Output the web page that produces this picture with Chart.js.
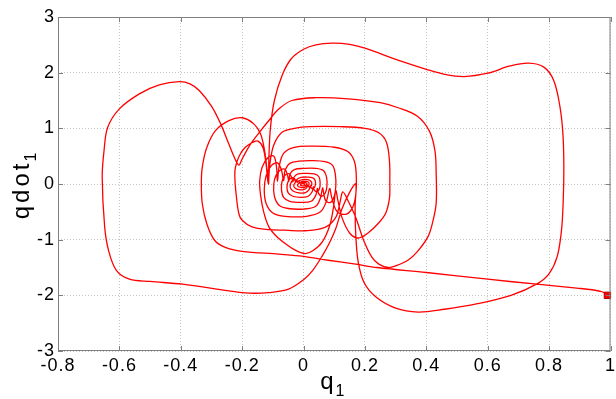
<!DOCTYPE html>
<html>
<head>
<meta charset="utf-8">
<script src="https://cdn.jsdelivr.net/npm/chart.js@4/dist/chart.umd.min.js"></script>
<style>
  html, body { margin: 0; padding: 0; background: #fff; }
  #wrap { width: 616px; height: 399px; }
</style>
</head>
<body>
<div id="wrap"><canvas id="phase" width="616" height="399"></canvas></div>
<script>
// phase portrait q1 vs qdot1 as [q1, qdot1] pairs
const approach = [[0.99,-2.0],[0.975,-1.94],[0.94,-1.9],[0.89,-1.87],[0.76,-1.8],[0.6,-1.71],[0.4,-1.59],[0.24,-1.5],[0.17,-1.44],[0.08,-1.37],[0.0,-1.3],[-0.08,-1.26],[-0.2,-1.21],[-0.255,-1.14],[-0.29,-1.01],[-0.315,-0.72],[-0.33,-0.35],[-0.333,0.0],[-0.33,0.3],[-0.315,0.66],[-0.287,0.96],[-0.243,1.14],[-0.2,1.19],[-0.162,1.08],[-0.14,0.9],[-0.127,0.6],[-0.119,0.25],[-0.114,0.0]];
const outerRight = [[-0.113,0.45],[-0.108,1.0],[-0.095,1.5],[-0.07,1.95],[-0.04,2.25],[0.0,2.42],[0.04,2.5],[0.092,2.53],[0.15,2.51],[0.2,2.44],[0.31,2.22],[0.4,2.06],[0.46,1.97],[0.523,1.93],[0.6,1.99],[0.673,2.12],[0.733,2.17],[0.783,2.1],[0.815,1.86],[0.835,1.4],[0.845,0.9],[0.848,0.3],[0.846,-0.3],[0.84,-0.85],[0.826,-1.31],[0.8,-1.61],[0.762,-1.79],[0.676,-2.0],[0.567,-2.15],[0.459,-2.25],[0.373,-2.3],[0.3,-2.23],[0.236,-2.03],[0.197,-1.77],[0.178,-1.4],[0.17,-0.9],[0.168,-0.4],[0.17,0.0]];
const outerLeft = [[0.15,-0.15],[0.125,-0.45],[0.105,-0.8],[0.085,-1.05],[0.059,-1.31],[0.03,-1.55],[0.0,-1.72],[-0.049,-1.89],[-0.113,-1.95],[-0.178,-1.96],[-0.243,-1.92],[-0.394,-1.8],[-0.5,-1.75],[-0.567,-1.71],[-0.61,-1.55],[-0.635,-1.2],[-0.648,-0.77],[-0.656,0.13],[-0.65,0.6],[-0.638,1.02],[-0.6,1.35],[-0.535,1.62],[-0.47,1.78],[-0.405,1.84],[-0.37,1.8],[-0.34,1.68],[-0.3,1.4],[-0.27,1.08],[-0.245,0.74],[-0.225,0.47],[-0.211,0.34]];
const swing3Right = [[-0.2,0.45],[-0.175,0.7],[-0.145,0.92],[-0.113,1.14],[-0.08,1.35],[-0.038,1.5],[0.038,1.55],[0.146,1.53],[0.25,1.46],[0.308,1.37],[0.37,1.22],[0.41,0.95],[0.428,0.6],[0.432,0.2],[0.432,-0.35],[0.42,-0.7],[0.405,-0.95],[0.37,-1.22],[0.34,-1.37],[0.3,-1.47],[0.276,-1.5],[0.245,-1.44],[0.222,-1.31],[0.195,-1.0],[0.17,-0.6],[0.145,-0.3],[0.128,-0.14]];
const swing3Left = [[0.118,-0.35],[0.105,-0.6],[0.07,-0.78],[0.005,-0.84],[-0.06,-0.83],[-0.113,-0.82],[-0.168,-0.77],[-0.2,-0.65],[-0.211,-0.53],[-0.221,-0.11],[-0.224,0.15],[-0.222,0.3],[-0.21,0.5],[-0.19,0.66],[-0.165,0.75],[-0.148,0.77],[-0.132,0.65],[-0.122,0.35],[-0.115,0.0]];
const swing4Right = [[-0.11,0.35],[-0.097,0.7],[-0.07,0.93],[-0.03,1.0],[0.02,1.03],[0.12,1.03],[0.2,1.0],[0.245,0.92],[0.27,0.75],[0.28,0.4],[0.281,0.0],[0.28,-0.25],[0.268,-0.52],[0.243,-0.71],[0.21,-0.88],[0.178,-0.97],[0.15,-0.88],[0.125,-0.6],[0.112,-0.3],[0.105,-0.12]];
const swing4Left = [[0.098,-0.4],[0.085,-0.75],[0.06,-1.05],[0.03,-1.2],[0.005,-1.25],[-0.03,-1.18],[-0.06,-1.07],[-0.09,-0.93],[-0.113,-0.77],[-0.13,-0.5],[-0.14,-0.2],[-0.143,0.05],[-0.135,0.3],[-0.115,0.48],[-0.097,0.5],[-0.088,0.3],[-0.085,0.05]];
const swing5Right = [[-0.08,0.3],[-0.065,0.55],[-0.03,0.66],[0.03,0.68],[0.1,0.66],[0.145,0.58],[0.166,0.4],[0.172,0.1],[0.17,-0.2],[0.16,-0.42],[0.14,-0.54],[0.11,-0.5],[0.092,-0.25],[0.085,-0.08]];
const swing5Left = [[0.075,-0.3],[0.055,-0.5],[0.01,-0.58],[-0.06,-0.58],[-0.1,-0.52],[-0.122,-0.35],[-0.128,-0.1],[-0.122,0.15],[-0.105,0.33],[-0.085,0.38],[-0.072,0.25],[-0.065,0.06]];
const swing6Right = [[-0.06,0.25],[-0.045,0.37],[-0.015,0.41],[0.03,0.42],[0.07,0.4],[0.095,0.33],[0.104,0.15],[0.105,-0.05],[0.1,-0.22],[0.088,-0.33],[0.072,-0.3],[0.065,-0.15],[0.062,-0.07]];
const swing6Left = [[0.055,-0.25],[0.04,-0.4],[0.0,-0.45],[-0.05,-0.44],[-0.08,-0.38],[-0.095,-0.22],[-0.097,0.0],[-0.09,0.15],[-0.075,0.25],[-0.06,0.26],[-0.052,0.15],[-0.048,0.05]];
const swing7Right = [[-0.044,0.18],[-0.03,0.26],[0.0,0.28],[0.04,0.28],[0.065,0.24],[0.075,0.12],[0.076,-0.05],[0.07,-0.17],[0.058,-0.22],[0.048,-0.16],[0.045,-0.08]];
const swing7Left = [[0.04,-0.2],[0.025,-0.31],[-0.01,-0.33],[-0.045,-0.31],[-0.065,-0.24],[-0.072,-0.1],[-0.07,0.05],[-0.06,0.16],[-0.045,0.18],[-0.038,0.1],[-0.035,0.04]];
const swing8Right = [[-0.03,0.13],[-0.018,0.18],[0.005,0.19],[0.035,0.18],[0.05,0.13],[0.054,0.02],[0.052,-0.08],[0.044,-0.14],[0.035,-0.11],[0.032,-0.05]];
const swing8Left = [[0.028,-0.14],[0.015,-0.22],[-0.01,-0.24],[-0.035,-0.22],[-0.05,-0.16],[-0.054,-0.06],[-0.05,0.05],[-0.04,0.11],[-0.03,0.1],[-0.026,0.04]];
const swing9Right = [[-0.02,0.09],[-0.008,0.12],[0.012,0.125],[0.03,0.11],[0.038,0.06],[0.038,-0.03],[0.032,-0.08],[0.025,-0.07],[0.022,-0.03]];
const swing9Left = [[0.018,-0.1],[0.006,-0.155],[-0.015,-0.16],[-0.033,-0.13],[-0.043,-0.07],[-0.042,0.01],[-0.034,0.07],[-0.024,0.07],[-0.02,0.03]];
const swing10 = [[-0.014,0.06],[-0.003,0.08],[0.013,0.078],[0.024,0.05],[0.027,0.0],[0.023,-0.045],[0.016,-0.05],[0.014,-0.02],[0.01,-0.07],[0.0,-0.1],[-0.015,-0.1],[-0.027,-0.075],[-0.032,-0.03],[-0.028,0.02],[-0.02,0.05],[-0.014,0.04],[-0.012,0.015]];
const settle = [[-0.008,0.04],[0.002,0.05],[0.014,0.04],[0.018,0.01],[0.016,-0.025],[0.01,-0.035],[0.004,-0.06],[-0.006,-0.065],[-0.016,-0.05],[-0.02,-0.02],[-0.016,0.01],[-0.008,0.025],[0.002,0.028],[0.01,0.015],[0.01,-0.01],[0.004,-0.03],[-0.004,-0.035],[-0.01,-0.02],[-0.008,0.0],[0.0,0.005],[0.004,-0.005],[0.0,-0.01]];

const startPoint = [0.99, -2.0];

const xMin = -0.8, xMax = 1, xStep = 0.2;
const yMin = -3, yMax = 3, yStep = 1;

const trajectory = [].concat(
    approach, outerRight, outerLeft,
    swing3Right, swing3Left, swing4Right, swing4Left,
    swing5Right, swing5Left, swing6Right, swing6Left,
    swing7Right, swing7Left, swing8Right, swing8Left,
    swing9Right, swing9Left, swing10, settle
).map(p => ({ x: p[0], y: p[1] }));

const FONT = '"Liberation Sans", Arial, sans-serif';

// MATLAB-like box, inner ticks and subscripted axis labels
const matlabFrame = {
    id: 'matlabFrame',
    beforeDraw(chart) {
        chart.ctx.letterSpacing = '1px';
    },
    afterDraw(chart) {
        const { ctx, chartArea: a, scales } = chart;
        ctx.save();
        ctx.strokeStyle = '#7f7f7f';
        ctx.lineWidth = 1;
        ctx.strokeRect(a.left + 0.5, a.top + 0.5, a.right - a.left - 1, a.bottom - a.top - 1);
        ctx.beginPath();
        scales.x.ticks.forEach(t => {
            const px = Math.round(scales.x.getPixelForValue(t.value)) + 0.5;
            ctx.moveTo(px, a.bottom); ctx.lineTo(px, a.bottom - 5);
            ctx.moveTo(px, a.top); ctx.lineTo(px, a.top + 5);
        });
        scales.y.ticks.forEach(t => {
            const py = Math.round(scales.y.getPixelForValue(t.value)) + 0.5;
            ctx.moveTo(a.left, py); ctx.lineTo(a.left + 5, py);
            ctx.moveTo(a.right, py); ctx.lineTo(a.right - 5, py);
        });
        ctx.stroke();

        ctx.fillStyle = '#000';
        const label = (main, sub, cx, base, rot) => {
            ctx.save();
            ctx.translate(cx, base);
            ctx.rotate(rot);
            ctx.letterSpacing = '3px';
            ctx.font = '24px ' + FONT;
            const mw = ctx.measureText(main).width;
            ctx.font = '16px ' + FONT;
            const sw = ctx.measureText(sub).width;
            const x0 = -(mw + sw) / 2;
            ctx.textBaseline = 'alphabetic';
            ctx.textAlign = 'left';
            ctx.font = '24px ' + FONT;
            ctx.fillText(main, x0, 0);
            ctx.font = '16px ' + FONT;
            ctx.fillText(sub, x0 + mw - 1, 7);
            ctx.restore();
        };
        label('q', '1', (a.left + a.right) / 2, 389, 0);
        label('qdot', '1', 29, (a.top + a.bottom) / 2, -Math.PI / 2);
        ctx.restore();
    }
};

new Chart(document.getElementById('phase'), {
    type: 'scatter',
    data: {
        datasets: [
            {
                data: trajectory,
                showLine: true,
                borderColor: '#ff0000',
                borderWidth: 1.3,
                pointRadius: 0,
                tension: 0.35,
                order: 2
            },
            {
                data: [{ x: startPoint[0], y: startPoint[1] }],
                pointStyle: 'rect',
                pointRadius: 4.5,
                backgroundColor: '#ff0000',
                borderColor: '#b00000',
                borderWidth: 1,
                clip: false,
                order: 1
            }
        ]
    },
    options: {
        responsive: false,
        animation: false,
        layout: { padding: { top: 17, right: 3, left: 0, bottom: 0 } },
        plugins: { legend: { display: false }, tooltip: { enabled: false } },
        scales: {
            x: {
                type: 'linear',
                min: xMin,
                max: xMax,
                afterFit: s => { s.height = 48; s.paddingLeft = 0; s.paddingRight = 0; },
                ticks: {
                    stepSize: xStep,
                    padding: 4,
                    color: '#000',
                    maxRotation: 0,
                    font: { family: FONT, size: 18 },
                    callback: v => String(Math.round(v * 10) / 10)
                },
                grid: { color: '#c4c4c4', drawTicks: false, lineWidth: 1 },
                border: { display: false, dash: [1, 2] }
            },
            y: {
                type: 'linear',
                min: yMin,
                max: yMax,
                afterFit: s => { s.width = 58; s.paddingTop = 0; s.paddingBottom = 0; },
                ticks: {
                    stepSize: yStep,
                    padding: 3,
                    color: '#000',
                    font: { family: FONT, size: 18 },
                    callback: v => String(Math.round(v))
                },
                grid: { color: '#c4c4c4', drawTicks: false, lineWidth: 1 },
                border: { display: false, dash: [1, 2] }
            }
        }
    },
    plugins: [matlabFrame]
});
</script>
</body>
</html>
